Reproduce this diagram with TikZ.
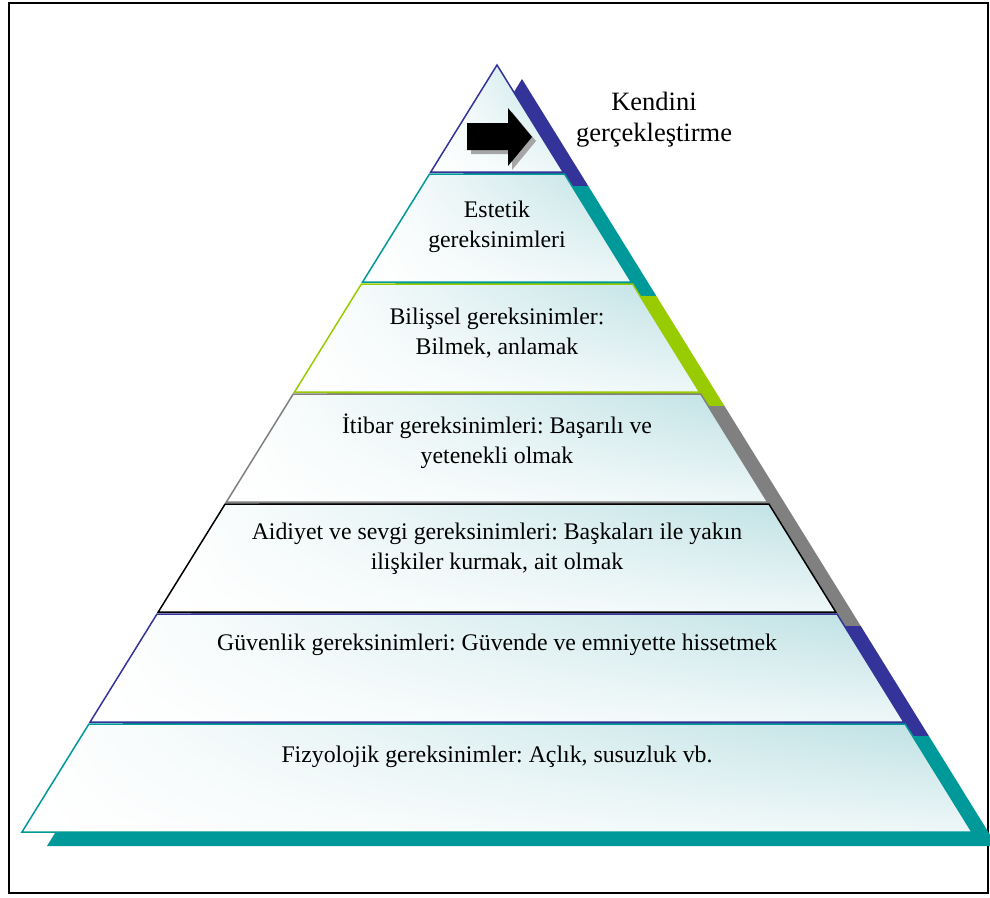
\documentclass[tikz,border=0pt]{standalone}
\usepackage{fontspec}
\setmainfont{Liberation Serif}
\usepackage{xcolor}
\usetikzlibrary{positioning,shadings}
\frenchspacing
\definecolor{pblue}{RGB}{51,51,153}
\definecolor{pteal}{RGB}{0,153,153}
\definecolor{pgreen}{RGB}{153,204,0}
\definecolor{pgray}{RGB}{128,128,128}
\definecolor{pfill}{RGB}{188,224,227}
\tikzset{
layer/.style={line width=1.5pt, upper left=white, upper right=pfill, lower left=white, lower right=white!75!pfill},
lbl/.style={align=center, inner sep=0pt, font=\fontsize{23.8}{29.5}\selectfont}
}
\newcommand{\lx}[1]{497-(#1-65)/767*475}
\newcommand{\rx}[1]{497+(#1-65)/767*475}

\begin{document}
\begin{tikzpicture}[x=1pt,y=-1pt]
\useasboundingbox (0,0) rectangle (990,897);
\clip (0,0) rectangle (990,897);
\draw[line width=2pt] (9,3) rectangle (988,893);

% shadows
\foreach \a/\b/\s in {65/172/pblue, 172/282/pteal, 282/392/pgreen, 392/502/pgray, 502/612/pgray, 612/722/pblue, 722/832/pteal}
  \fill[\s] ({\lx{\a}+25},\a+14) -- ({\rx{\a}+25},\a+14) -- ({\rx{\b}+25},\b+14) -- ({\lx{\b}+25},\b+14) -- cycle;

% layers
\foreach \a/\b/\c in {65/172/pblue, 174/282/pteal, 284/392/pgreen, 394/502/pgray, 504/612/black, 614/722/pblue, 724/832/pteal}
  \path[layer, draw=\c] ({\lx{\a}},\a) -- ({\rx{\a}},\a) -- ({\rx{\b}},\b) -- ({\lx{\b}},\b) -- cycle;

% arrow
\fill[black!35] (471,127) -- (512,127) -- (512,112) -- (536,141) -- (512,170) -- (512,154) -- (471,154) -- cycle;
\fill[black] (467,123) -- (508,123) -- (508,108) -- (532,137) -- (508,166) -- (508,150) -- (467,150) -- cycle;

\node[lbl, font=\fontsize{26.5}{31}\selectfont] (kendini) at (654,120) {Kendini\\gerçekleştirme};
\node[lbl] (estetik) at (497,227) {Estetik\\gereksinimleri};
\node[lbl] (bilissel) at (497,333) {Bilişsel gereksinimler:\\Bilmek, anlamak};
\node[lbl] (itibar) at (497,441) {İtibar gereksinimleri: Başarılı ve\\yetenekli olmak};
\node[lbl] (aidiyet) at (497,549) {Aidiyet ve sevgi gereksinimleri: Başkaları ile yakın\\ilişkiler kurmak, ait olmak};
\node[lbl] (guvenlik) at (497,645) {Güvenlik gereksinimleri: Güvende ve emniyette hissetmek};
\node[lbl] (fizyolojik) at (497,757) {Fizyolojik gereksinimler: Açlık, susuzluk vb.};
\end{tikzpicture}
\end{document}
